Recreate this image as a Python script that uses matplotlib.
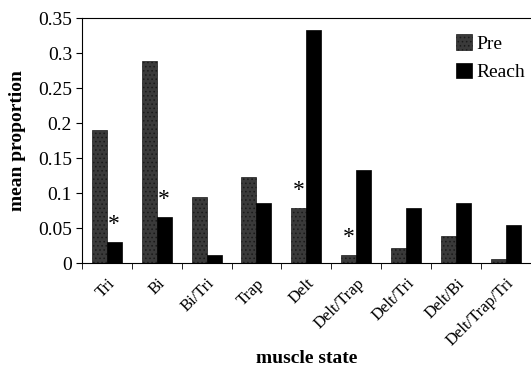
import numpy as np
import matplotlib.pyplot as plt

plt.rcParams['font.family'] = ['Liberation Serif', 'DejaVu Serif']
plt.rcParams['hatch.color'] = '#9a9a9a'
plt.rcParams['hatch.linewidth'] = 0.6

states = ['Tri', 'Bi', 'Bi/Tri', 'Trap', 'Delt', 'Delt/Trap', 'Delt/Tri', 'Delt/Bi', 'Delt/Trap/Tri']
pre = [0.19, 0.289, 0.095, 0.123, 0.078, 0.011, 0.022, 0.038, 0.006]
reach = [0.030, 0.066, 0.011, 0.086, 0.333, 0.133, 0.078, 0.086, 0.054]
# which bar of each group gets a significance star
star_on = {0: 'reach', 1: 'reach', 4: 'pre', 5: 'pre'}

x = np.arange(len(states))
w = 0.3

fig = plt.figure(figsize=(5.31, 3.84), dpi=100)
ax = fig.add_axes([0.154, 0.315, 0.846, 0.638])

ax.bar(x - w / 2, pre, w, color='#3a3a3a', hatch='....', edgecolor='#1a1a1a', linewidth=0.5, label='Pre')
ax.bar(x + w / 2, reach, w, color='black', edgecolor='black', linewidth=0.5, label='Reach')

for i, which in star_on.items():
    if which == 'pre':
        ax.text(x[i] - w / 2, pre[i] + 0.01, '*', ha='center', va='bottom', fontsize=17)
    else:
        ax.text(x[i] + w / 2, reach[i] + 0.01, '*', ha='center', va='bottom', fontsize=17)

ax.set_xlim(-0.5, len(states) - 0.5)
ax.set_ylim(0, 0.35)
ax.set_yticks(np.arange(0, 0.36, 0.05))
ax.set_yticklabels(['0', '0.05', '0.1', '0.15', '0.2', '0.25', '0.3', '0.35'], fontsize=14)
ax.set_xticks(x)
ax.set_xticklabels(states, rotation=45, ha='right', rotation_mode='anchor', fontsize=12)
ax.set_xticks(np.arange(-0.5, len(states), 1), minor=True)
ax.tick_params(axis='x', which='major', length=0, pad=9)
ax.tick_params(axis='x', which='minor', length=4, direction='out')
ax.tick_params(axis='y', length=4, direction='out', pad=3)
ax.spines['right'].set_visible(False)

ax.set_ylabel('mean proportion', fontsize=14, fontweight='bold', va='center')
ax.set_xlabel('muscle state', fontsize=14, fontweight='bold', va='center')
ax.yaxis.set_label_coords(-0.142, 0.5)
ax.xaxis.set_label_coords(0.5, -0.388)

ax.legend(loc='upper right', frameon=False, fontsize=14, handlelength=0.85, handleheight=0.85,
          handletextpad=0.2, labelspacing=0.5, bbox_to_anchor=(1.025, 1.005))

fig.savefig('out.png', dpi=100)
